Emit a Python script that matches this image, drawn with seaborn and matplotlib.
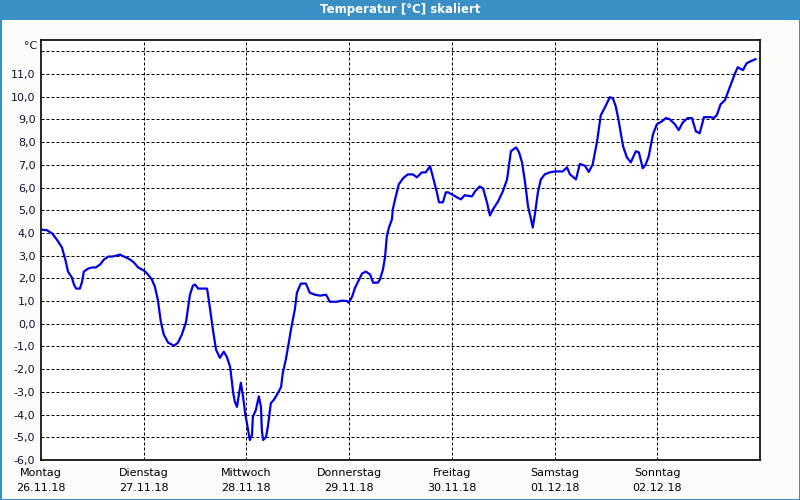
import matplotlib
matplotlib.use("Agg")
import matplotlib.pyplot as plt
import seaborn as sns
import pandas as pd
from matplotlib.patches import Rectangle

# ---- data ----
hours = [0.0, 1.4, 2.6, 3.7, 4.9, 5.8, 6.3, 7.2, 7.7, 8.2, 9.1, 9.6, 10.0, 11.0, 11.9, 12.8,
         13.8, 14.7, 15.7, 16.6, 17.5, 18.5, 18.9, 19.9, 20.8, 21.7, 22.7, 24.1, 25.0, 25.9,
         26.6, 27.3, 28.0, 28.7, 29.7, 31.1, 32.0, 32.9, 33.9, 34.3, 34.8, 35.5, 36.0, 36.7,
         38.8, 39.2, 40.2, 40.9, 41.8, 42.7, 43.4, 44.2, 44.9, 45.3, 45.8, 46.3, 46.7, 47.2,
         47.7, 48.4, 48.8, 49.3, 49.5, 50.2, 50.9, 51.4, 51.6, 51.9, 52.6, 53.0, 53.7, 54.4,
         55.4, 56.1, 56.5, 57.2, 57.9, 58.4, 59.3, 59.8, 60.7, 61.9, 62.8, 64.0, 65.2, 66.6,
         67.5, 69.1, 70.3, 71.5, 71.9, 72.7, 73.4, 74.1, 75.0, 75.9, 76.9, 77.6, 78.7, 79.2,
         79.9, 80.4, 80.8, 81.3, 82.0, 82.2, 82.9, 83.6, 84.6, 85.7, 86.9, 87.8, 89.0, 89.9,
         90.9, 91.6, 92.5, 93.0, 93.9, 94.6, 95.1, 96.0, 97.2, 98.1, 99.0, 100.7, 101.4, 102.5,
         103.3, 104.2, 104.9, 105.6, 106.8, 107.9, 108.9, 109.8, 111.0, 111.7, 112.4, 113.1,
         113.8, 114.5, 114.9, 115.4, 116.1, 116.8, 117.7, 118.9, 120.1, 121.9, 122.9, 123.6,
         125.0, 125.9, 127.1, 128.0, 128.9, 129.9, 130.8, 131.8, 132.9, 133.6, 134.3, 135.0,
         136.0, 136.9, 137.8, 139.0, 139.7, 140.6, 141.3, 142.0, 143.0, 143.9, 145.1, 146.0,
         146.9, 148.1, 149.0, 150.0, 151.1, 152.1, 153.0, 153.9, 154.9, 156.5, 157.2, 157.9,
         158.8, 159.8, 160.5, 161.4, 162.1, 162.8, 164.0, 164.9, 165.9, 167.0]
temperature = [4.15, 4.12, 3.98, 3.71, 3.36, 2.74, 2.30, 2.04, 1.73, 1.55, 1.55, 1.86, 2.30, 2.43,
               2.48, 2.48, 2.61, 2.83, 2.96, 2.96, 3.00, 3.05, 3.00, 2.92, 2.83, 2.70, 2.48, 2.34,
               2.17, 1.95, 1.64, 1.06, 0.09, -0.48, -0.83, -0.97, -0.83, -0.48, 0.09, 0.62, 1.28,
               1.68, 1.73, 1.55, 1.55, 1.06, -0.30, -1.14, -1.50, -1.23, -1.45, -1.90, -3.04,
               -3.44, -3.66, -3.04, -2.60, -3.20, -3.93, -4.68, -5.12, -4.90, -4.10, -3.80, -3.20,
               -3.66, -4.68, -5.12, -4.98, -4.54, -3.50, -3.35, -3.04, -2.78, -2.16, -1.58, -0.83,
               -0.26, 0.62, 1.37, 1.77, 1.77, 1.37, 1.28, 1.24, 1.28, 0.97, 0.97, 1.02, 1.00, 0.93,
               1.20, 1.60, 1.86, 2.21, 2.30, 2.17, 1.81, 1.81, 1.95, 2.39, 2.96, 3.85, 4.24, 4.60,
               5.04, 5.61, 6.14, 6.41, 6.58, 6.58, 6.45, 6.67, 6.67, 6.94, 6.45, 5.79, 5.35, 5.35,
               5.79, 5.79, 5.70, 5.57, 5.48, 5.66, 5.61, 5.83, 6.05, 5.96, 5.35, 4.77, 5.04, 5.39,
               5.83, 6.36, 7.60, 7.77, 7.55, 7.11, 6.23, 5.17, 4.60, 4.24, 4.82, 5.79, 6.36, 6.58,
               6.67, 6.71, 6.71, 6.89, 6.58, 6.36, 7.04, 6.96, 6.69, 7.02, 8.00, 9.19, 9.54, 9.98,
               9.94, 9.58, 8.92, 7.82, 7.33, 7.11, 7.60, 7.55, 6.85, 7.02, 7.38, 8.35, 8.79, 8.92,
               9.06, 9.01, 8.79, 8.53, 8.88, 9.06, 9.06, 8.48, 8.39, 9.10, 9.10, 9.06, 9.19, 9.67,
               9.85, 10.20, 10.64, 11.00, 11.30, 11.17, 11.48, 11.57, 11.66]
day_names = ["Montag", "Dienstag", "Mittwoch", "Donnerstag", "Freitag", "Samstag", "Sonntag"]
day_dates = ["26.11.18", "27.11.18", "28.11.18", "29.11.18", "30.11.18", "01.12.18", "02.12.18"]
y_ticks = list(range(-6, 13))
title = "Temperatur [°C] skaliert"

df = pd.DataFrame({"h": hours, "t": temperature})

sns.set_style("white")
plt.rcParams["font.family"] = ["DejaVu Sans"]

bg = "#fafdfa"
frame_blue = "#3a8fc4"
fig = plt.figure(figsize=(8, 5), dpi=100, facecolor=bg)
ax = fig.add_axes([41 / 800, 1 - 460 / 500, 719 / 800, 420 / 500])
ax.set_facecolor("white")

sns.lineplot(data=df, x="h", y="t", ax=ax, color="#0000e6", linewidth=1.6, zorder=3)

ax.set_xlim(0, 168)
ax.set_ylim(-6, 12.5)
ax.set_xticks([24 * i for i in range(7)])
ax.set_xticklabels([f"{n}\n{d}" for n, d in zip(day_names, day_dates)],
                   fontsize=8, color="#000000", linespacing=1.6)
ax.set_yticks(y_ticks)
ax.set_yticklabels([f"{v},0" if v < 12 else "" for v in y_ticks],
                   fontsize=8, color="#101030")
ax.tick_params(axis="y", length=0, pad=4)
ax.tick_params(axis="x", length=0, pad=6)
ax.set_xlabel("")
ax.set_ylabel("")

# dashed grid
for i in range(1, 7):
    ax.axvline(24 * i, color="black", lw=0.72, linestyle=(0, (3, 2)), zorder=1)
for v in range(-5, 13):
    ax.axhline(v, color="black", lw=0.72, linestyle=(0, (3, 2)), zorder=1)

for s in ax.spines.values():
    s.set_visible(True)
    s.set_color("black")
    s.set_linewidth(1.2)

fig.text(37 / 800, 1 - 46 / 500, "°C", ha="right", va="center", fontsize=8, color="#101030")

# title bar & border
fig.patches.append(Rectangle((0, 1 - 20 / 500), 1, 20 / 500, transform=fig.transFigure,
                             facecolor=frame_blue, edgecolor="none", zorder=0))
fig.patches.append(Rectangle((0.5 / 800, 0.5 / 500), 799 / 800, 1 - 1 / 500, transform=fig.transFigure,
                             facecolor="none", edgecolor=frame_blue, linewidth=1.5, zorder=0))
fig.text(0.5, 1 - 10 / 500, title, ha="center", va="center", fontsize=8.5,
         fontweight="bold", color="white")

fig.savefig("out.png", dpi=100, facecolor=bg)
